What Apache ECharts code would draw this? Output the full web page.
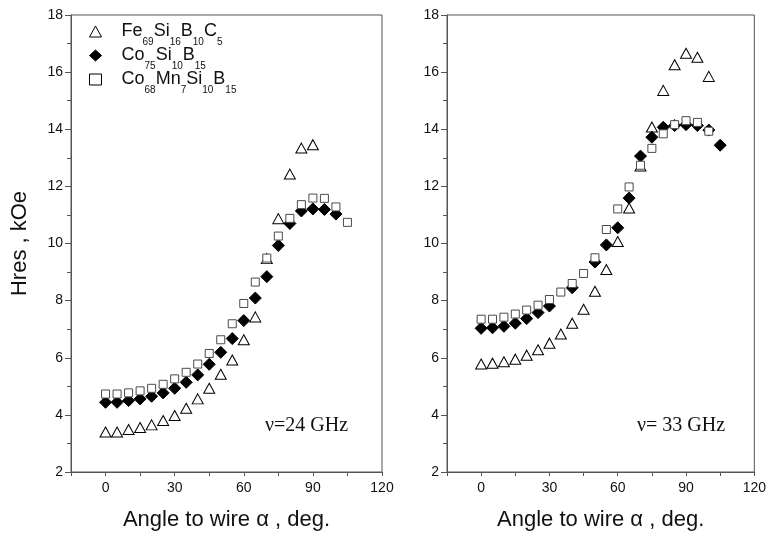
<!DOCTYPE html>
<html>
<head>
<meta charset="utf-8">
<script src="https://cdn.jsdelivr.net/npm/echarts@6/dist/echarts.min.js"></script>
<style>
  html, body { margin: 0; padding: 0; background: #ffffff; }
  #chart { width: 769px; height: 536px; }
</style>
</head>
<body>
<div id="chart"></div>
<script>
// Resonance field Hres (kOe) versus angle between field and wire, deg.

// ---- 24 GHz ----
const angle24Fe = [0, 5, 10, 15, 20, 25, 30, 35, 40, 45, 50, 55, 60, 65, 70, 75, 80, 85, 90];
const hres24Fe = [3.40, 3.40, 3.49, 3.56, 3.65, 3.80, 3.98, 4.23, 4.56, 4.93, 5.42, 5.92, 6.63, 7.43, 9.47, 10.87, 12.43, 13.34, 13.46];

const angle24Co = [0, 5, 10, 15, 20, 25, 30, 35, 40, 45, 50, 55, 60, 65, 70, 75, 80, 85, 90, 95, 100];
const hres24Co = [4.44, 4.44, 4.50, 4.56, 4.65, 4.77, 4.93, 5.14, 5.40, 5.77, 6.19, 6.67, 7.30, 8.09, 8.84, 9.93, 10.70, 11.14, 11.21, 11.19, 11.03];

const angle24CoMn = [0, 5, 10, 15, 20, 25, 30, 35, 40, 45, 50, 55, 60, 65, 70, 75, 80, 85, 90, 95, 100, 105];
const hres24CoMn = [4.73, 4.73, 4.77, 4.84, 4.93, 5.07, 5.26, 5.49, 5.78, 6.15, 6.63, 7.19, 7.90, 8.65, 9.49, 10.26, 10.88, 11.36, 11.59, 11.58, 11.28, 10.74];

// ---- 33 GHz ----
const angle33Fe = [0, 5, 10, 15, 20, 25, 30, 35, 40, 45, 50, 55, 60, 65, 70, 75, 80, 85, 90, 95, 100];
const hres33Fe = [5.78, 5.81, 5.86, 5.95, 6.09, 6.28, 6.51, 6.83, 7.21, 7.70, 8.33, 9.09, 10.07, 11.24, 12.71, 14.08, 15.36, 16.26, 16.66, 16.52, 15.85];

const angle33Co = [0, 5, 10, 15, 20, 25, 30, 40, 50, 55, 60, 65, 70, 75, 80, 85, 90, 95, 100, 105];
const hres33Co = [7.03, 7.05, 7.10, 7.21, 7.37, 7.58, 7.81, 8.45, 9.35, 9.95, 10.55, 11.59, 13.06, 13.72, 14.07, 14.13, 14.16, 14.13, 13.97, 13.44];

const angle33CoMn = [0, 5, 10, 15, 20, 25, 30, 35, 40, 45, 50, 55, 60, 65, 70, 75, 80, 85, 90, 95, 100];
const hres33CoMn = [7.35, 7.35, 7.42, 7.53, 7.67, 7.84, 8.04, 8.30, 8.60, 8.95, 9.50, 10.49, 11.21, 11.98, 12.74, 13.33, 13.84, 14.16, 14.30, 14.24, 13.93];

// ---- axes ----
const xTickValues = [0, 30, 60, 90, 120];
const yTickValues = [2, 4, 6, 8, 10, 12, 14, 16, 18];
const xTitle = 'Angle to wire α , deg.';
const yTitle = 'Hres , kOe';
const freqLabels = ['ν=24 GHz', 'ν= 33 GHz'];

// ---- series names (chemical formulas) ----
const nameFe = 'Fe69Si16B10C5';
const nameCo = 'Co75Si10B15';
const nameCoMn = 'Co68Mn7Si10B15';
// formula pieces: [text, isSubscript]
const formulaParts = {
  [nameFe]: [['Fe', 0], ['69', 1], ['Si', 0], ['16', 1], ['B', 0], ['10', 1], ['C', 0], ['5', 1]],
  [nameCo]: [['Co', 0], ['75', 1], ['Si', 0], ['10', 1], ['B', 0], ['15', 1]],
  [nameCoMn]: [['Co', 0], ['68', 1], ['Mn', 0], ['7', 1], ['Si', 0], ['10', 1], ['B', 0], ['15', 1]]
};

const SANS = '"Liberation Sans", Arial, sans-serif';
const SERIF = '"Liberation Serif", "Times New Roman", serif';
const AXIS_COLOR = '#555555';
const TEXT_COLOR = '#111111';

function zip(xs, ys) { return xs.map((x, i) => [x, ys[i]]); }

// leading spacer keeps the formula clear of the legend symbol
function formulaRich(name) {
  return '{g| }' + formulaParts[name].map(([t, sub]) => (sub ? '{s|' + t + '}' : '{m|' + t + '}')).join('');
}

const chart = echarts.init(document.getElementById('chart'), null, { renderer: 'canvas' });

function xAxisFor(gi) {
  return {
    type: 'value', gridIndex: gi, min: -15, max: 120, interval: 15,
    axisLine: { show: true, onZero: false, lineStyle: { color: AXIS_COLOR, width: 1 } },
    axisTick: { show: true, length: 4, lineStyle: { color: AXIS_COLOR } },
    axisLabel: {
      formatter: v => (xTickValues.indexOf(v) >= 0 ? String(v) : ''),
      fontSize: 14, color: TEXT_COLOR, fontFamily: SANS, margin: 9
    },
    splitLine: { show: false },
    name: xTitle, nameLocation: 'middle', nameGap: 37,
    nameTextStyle: { fontSize: 22, fontFamily: SANS, color: TEXT_COLOR }
  };
}

function yAxisFor(gi, withName) {
  const ax = {
    type: 'value', gridIndex: gi, min: 2, max: 18, interval: 2,
    axisLine: { show: true, onZero: false, lineStyle: { color: AXIS_COLOR, width: 1 } },
    axisTick: { show: true, length: 6, lineStyle: { color: AXIS_COLOR } },
    minorTick: { show: true, splitNumber: 2, length: 4, lineStyle: { color: AXIS_COLOR } },
    axisLabel: {
      formatter: v => (yTickValues.indexOf(v) >= 0 ? String(v) : ''),
      fontSize: 14, color: TEXT_COLOR, fontFamily: SANS, margin: 8
    },
    splitLine: { show: false },
    minorSplitLine: { show: false }
  };
  if (withName) {
    ax.name = yTitle;
    ax.nameLocation = 'middle';
    ax.nameGap = 40;
    ax.nameTextStyle = { fontSize: 22, fontFamily: SANS, color: TEXT_COLOR };
  }
  return ax;
}

const triangleStyle = { color: '#ffffff', borderColor: '#000000', borderWidth: 1, opacity: 1 };
const diamondStyle = { color: '#000000', borderColor: '#000000', borderWidth: 1, opacity: 1 };
const squareStyle = { color: '#ffffff', borderColor: '#4a4a4a', borderWidth: 1, opacity: 1 };

function seriesSet(gi, fe, co, comn) {
  return [
    { name: nameFe, type: 'scatter', xAxisIndex: gi, yAxisIndex: gi, data: fe,
      symbol: 'triangle', symbolSize: [11, 10], itemStyle: triangleStyle, z: 2 },
    { name: nameCo, type: 'scatter', xAxisIndex: gi, yAxisIndex: gi, data: co,
      symbol: 'diamond', symbolSize: [12, 12], itemStyle: diamondStyle, z: 3 },
    { name: nameCoMn, type: 'scatter', xAxisIndex: gi, yAxisIndex: gi, data: comn,
      symbol: 'rect', symbolSize: 8, itemStyle: squareStyle, z: 4 }
  ];
}

const option = {
  animation: false,
  backgroundColor: '#ffffff',
  grid: [
    { left: 71, top: 15, width: 311, height: 458, show: true, borderColor: AXIS_COLOR, borderWidth: 1, backgroundColor: 'transparent' },
    { left: 447, top: 15, width: 311, height: 458, show: true, borderColor: AXIS_COLOR, borderWidth: 1, backgroundColor: 'transparent' }
  ],
  xAxis: [xAxisFor(0), xAxisFor(1)],
  yAxis: [yAxisFor(0, true), yAxisFor(1, false)],
  legend: {
    orient: 'vertical', left: 89, top: 16, padding: 0,
    itemWidth: 12, itemHeight: 11, itemGap: -7,
    data: [
      { name: nameFe, itemStyle: { color: '#ffffff', borderColor: '#000000', borderWidth: 1 } },
      { name: nameCo, itemStyle: { color: '#000000', borderColor: '#000000', borderWidth: 1 } },
      { name: nameCoMn, itemStyle: { color: '#ffffff', borderColor: '#000000', borderWidth: 1 } }
    ],
    selectedMode: false,
    formatter: formulaRich,
    textStyle: {
      color: TEXT_COLOR, fontFamily: SANS,
      rich: {
        g: { fontSize: 10, lineHeight: 10, width: 15 },
        m: { fontSize: 18, lineHeight: 18, fontFamily: SANS, color: TEXT_COLOR },
        s: { fontSize: 10, lineHeight: 10, fontFamily: SANS, color: TEXT_COLOR, padding: [21, 0, 0, 0] }
      }
    }
  },
  graphic: [
    { type: 'text', left: 265, top: 416, style: { text: freqLabels[0], fontSize: 20, fontFamily: SERIF, fill: TEXT_COLOR } },
    { type: 'text', left: 637, top: 416, style: { text: freqLabels[1], fontSize: 20, fontFamily: SERIF, fill: TEXT_COLOR } }
  ],
  series: [
    ...seriesSet(0, zip(angle24Fe, hres24Fe), zip(angle24Co, hres24Co), zip(angle24CoMn, hres24CoMn)),
    ...seriesSet(1, zip(angle33Fe, hres33Fe), zip(angle33Co, hres33Co), zip(angle33CoMn, hres33CoMn))
  ]
};

chart.setOption(option);
</script>
</body>
</html>
